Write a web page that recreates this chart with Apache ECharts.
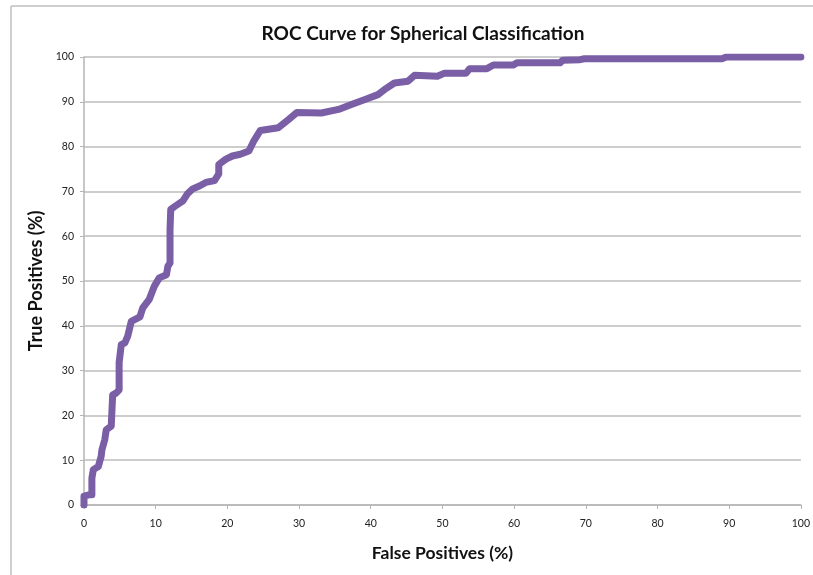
<!DOCTYPE html>
<html>
<head>
<meta charset="utf-8">
<title>ROC Curve for Spherical Classification</title>
<script src="https://cdn.jsdelivr.net/npm/echarts@6/dist/echarts.min.js"></script>
<style>
  html, body { margin: 0; padding: 0; background: #fff; }
  #chart { width: 813px; height: 575px; }
</style>
</head>
<body>
<div id="chart"></div>
<script>
"use strict";

// false positive rate (%)
var falsePos = [0, 0, 0.8, 1.1, 1.1, 1.3, 2.0, 2.4, 2.5, 2.9, 3.1, 3.8, 4.0, 4.0,
    4.5, 4.9, 4.9, 5.2, 5.7, 6.1, 6.6, 7.8, 8.2, 9.1, 9.8, 10.5, 11.5, 11.7,
    12.0, 12.0, 12.1, 12.8, 13.8, 14.4, 15.1, 16.1, 17.0, 18.2, 18.8, 18.8,
    19.8, 20.7, 21.8, 23.0, 23.7, 24.6, 27.1, 28.5, 29.7, 33.1, 35.5, 37.3,
    39.2, 41.0, 41.9, 43.3, 45.2, 46.1, 49.3, 50.3, 53.3, 53.8, 56.2, 57.1,
    59.9, 60.4, 66.4, 66.8, 69.2, 69.8, 89.0, 89.6, 100];
// true positive rate (%)
var truePos = [0, 2.0, 2.3, 2.3, 6.0, 7.9, 8.6, 10.9, 12.3, 14.6, 16.8, 17.6, 17.6, 24.6,
    25.0, 25.7, 31.8, 35.8, 36.2, 37.7, 41.0, 42.0, 44.0, 45.9, 48.8, 50.7, 51.4, 53.3,
    54.0, 61.5, 66.0, 66.8, 67.9, 69.4, 70.5, 71.2, 72.0, 72.4, 73.9, 76.0,
    77.2, 77.9, 78.3, 79.0, 81.3, 83.6, 84.2, 86.0, 87.6, 87.5, 88.3, 89.4,
    90.5, 91.6, 92.7, 94.2, 94.6, 95.9, 95.7, 96.4, 96.4, 97.4, 97.4, 98.2,
    98.2, 98.7, 98.7, 99.3, 99.4, 99.6, 99.6, 100, 100];

var xTicks = [0, 10, 20, 30, 40, 50, 60, 70, 80, 90, 100];
var yTicks = [0, 10, 20, 30, 40, 50, 60, 70, 80, 90, 100];

var points = falsePos.map(function (x, i) { return [x, truePos[i]]; });

var chart = echarts.init(document.getElementById('chart'), null, { renderer: 'canvas' });
var font = 'Lato, "Open Sans", sans-serif';

var option = {
    backgroundColor: '#ffffff',
    animation: false,
    title: {
        text: 'ROC Curve for Spherical Classification',
        left: 418,
        top: 19,
        textAlign: 'center',
        textStyle: { fontFamily: font, fontSize: 19, fontWeight: 'bold', color: '#111' }
    },
    graphic: [
        { type: 'line', shape: { x1: 11, y1: 6, x2: 813, y2: 6 }, style: { stroke: '#cfcfcf', lineWidth: 2 } },
        { type: 'line', shape: { x1: 11, y1: 6, x2: 11, y2: 575 }, style: { stroke: '#cfcfcf', lineWidth: 2 } }
    ],
    grid: { left: 84, right: 8, top: 57, bottom: 70 },
    xAxis: {
        type: 'value',
        min: xTicks[0],
        max: xTicks[xTicks.length - 1],
        interval: 10,
        name: 'False Positives (%)',
        nameLocation: 'middle',
        nameGap: 39,
        nameTextStyle: { fontFamily: font, fontSize: 17.5, fontWeight: 'bold', color: '#111' },
        axisLine: { lineStyle: { color: '#b5b5b5', width: 1.5 } },
        axisTick: { show: true, length: 4, lineStyle: { color: '#b5b5b5' } },
        axisLabel: { fontFamily: font, fontSize: 10.5, color: '#222', margin: 13 },
        splitLine: { show: false }
    },
    yAxis: {
        type: 'value',
        min: yTicks[0],
        max: yTicks[yTicks.length - 1],
        interval: 10,
        name: 'True Positives (%)',
        nameLocation: 'middle',
        nameGap: 38,
        nameTextStyle: { fontFamily: font, fontSize: 18, fontWeight: 'bold', color: '#111' },
        axisLine: { show: true, lineStyle: { color: '#b5b5b5', width: 1.5 } },
        axisTick: { show: true, length: 4, lineStyle: { color: '#b5b5b5' } },
        axisLabel: { fontFamily: font, fontSize: 10.5, color: '#222', margin: 10 },
        splitLine: { show: true, lineStyle: { color: '#bdbdbd', width: 1.5 } }
    },
    series: [
        {
            name: 'ROC',
            type: 'line',
            data: points,
            showSymbol: false,
            smooth: false,
            lineStyle: { color: '#7b5fa6', width: 7, join: 'round', cap: 'round' },
            itemStyle: { color: '#7b5fa6' },
            z: 3
        }
    ]
};

chart.setOption(option, true);
</script>
</body>
</html>
